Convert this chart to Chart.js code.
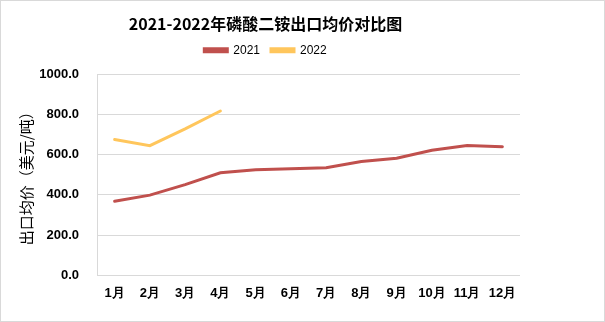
<!DOCTYPE html>
<html><head><meta charset="utf-8">
<script src="https://cdn.jsdelivr.net/npm/chart.js@4"></script>
<style>
html,body{margin:0;padding:0;background:#fff;}
#wrap{position:relative;width:603px;height:320px;border:1px solid #D9D9D9;}
</style></head><body>
<div id="wrap"><canvas id="c" width="603" height="320"></canvas></div>
<script>
const categories = ['1月','2月','3月','4月','5月','6月','7月','8月','9月','10月','11月','12月'];
const values2021 = [369, 399, 451, 510, 525, 530, 535, 566, 582, 622, 646, 640];
const values2022 = [675, 645, 728, 817, null, null, null, null, null, null, null, null];
const seriesNames = ['2021', '2022'];
const titleText = '2021-2022年磷酸二铵出口均价对比图';
const yTitle = '出口均价（美元/吨）';

const legendSpace = {
  id: 'legendSpace',
  beforeInit(chart) {
    const lg = chart.legend;
    if (!lg) return;
    const orig = lg.fit;
    lg.fit = function() { orig.call(this); this.height += 8; };
  }
};

new Chart(document.getElementById('c'), {
  type: 'line',
  data: {
    labels: categories,
    datasets: [
      {label: seriesNames[0], data: values2021, borderColor: '#C0504D', backgroundColor: '#C0504D', borderWidth: 3, pointRadius: 0, tension: 0, borderCapStyle: 'round'},
      {label: seriesNames[1], data: values2022, borderColor: '#FFC65C', backgroundColor: '#FFC65C', borderWidth: 3, pointRadius: 0, tension: 0, borderCapStyle: 'round', spanGaps: false}
    ]
  },
  plugins: [legendSpace],
  options: {
    responsive: false,
    animation: false,
    devicePixelRatio: 1,
    layout: {padding: {left: 10, right: 84, top: 8, bottom: 10}},
    plugins: {
      title: {display: true, text: titleText, color: '#000', font: {family: '"Noto Sans CJK SC"', size: 16, weight: 'bold'}, padding: {top: 5, bottom: 0}},
      legend: {display: true, labels: {color: '#000', boxWidth: 23, boxHeight: 3, font: {family: '"Liberation Sans"', size: 12}, padding: 11}},
      tooltip: {enabled: false}
    },
    scales: {
      x: {
        offset: true,
        grid: {display: false, drawTicks: false},
        border: {display: false},
        ticks: {color: '#000', padding: 10, font: {family: '"Liberation Sans"', size: 13, weight: 'bold'}, maxRotation: 0}
      },
      y: {
        min: 0, max: 1000,
        afterFit(scale) { scale.width = 86; },
        grid: {color: '#D9D9D9', drawTicks: false},
        border: {display: true, color: '#D9D9D9'},
        ticks: {stepSize: 200, color: '#000', padding: 18, font: {family: '"Liberation Sans"', size: 13, weight: 'bold'}, callback: v => v.toFixed(1)},
        title: {display: true, text: yTitle, color: '#000', font: {family: '"Noto Sans CJK SC"', size: 15}, padding: {top: 6, bottom: 4}}
      }
    }
  }
});
</script></body></html>
